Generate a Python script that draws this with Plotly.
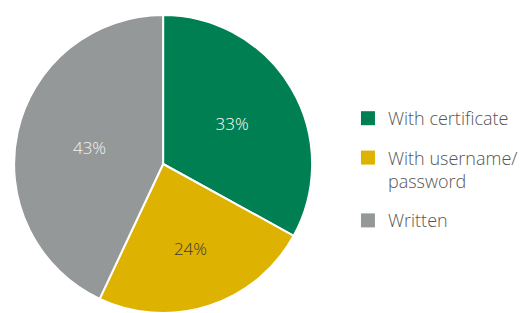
import plotly.graph_objects as go

labels = ["With certificate", "With username/<br>password", "Written"]
values = [33, 24, 43]
colors = ["#008052", "#DEB200", "#949899"]
text_colors = ["#FFFFFF", "#3A3A3A", "#F2F2F2"]

W, H = 523, 313
FONT = "Open Sans, sans-serif"

fig = go.Figure()
fig.add_trace(go.Pie(
    labels=labels,
    values=values,
    sort=False,
    direction="clockwise",
    rotation=0,
    marker=dict(colors=colors, line=dict(color="#FFFFFF", width=2)),
    texttemplate="%{percent:.0%}",
    textposition="inside",
    insidetextorientation="horizontal",
    textfont=dict(family=FONT, size=17, color=text_colors, weight=300),
    domain=dict(x=[0, 330 / W], y=[0, 1]),
    hoverinfo="none",
    showlegend=False,
))
# legend entries (one per slice, grouped so that the gap between entries can be set)
for lab, col in zip(labels, colors):
    fig.add_trace(go.Scatter(
        x=[None], y=[None], mode="markers", name=lab, legendgroup=lab,
        marker=dict(symbol="square", size=14, color=col, line=dict(width=0)),
        hoverinfo="none",
    ))

fig.update_layout(
    width=W, height=H,
    margin=dict(l=0, r=0, t=15, b=0),
    paper_bgcolor="white",
    plot_bgcolor="white",
    xaxis=dict(visible=False),
    yaxis=dict(visible=False),
    showlegend=True,
    legend=dict(
        x=352 / W, xanchor="left",
        y=1 - (100 - 15) / (H - 15), yanchor="top",
        font=dict(family=FONT, size=18, color="#555555", weight=300),
        valign="top",
        tracegroupgap=13,
        bgcolor="rgba(0,0,0,0)",
    ),
)
fig.write_html(
    "out.html",
    config={"displayModeBar": False},
    post_script="document.body.style.margin='0';document.body.style.overflow='hidden';",
)
